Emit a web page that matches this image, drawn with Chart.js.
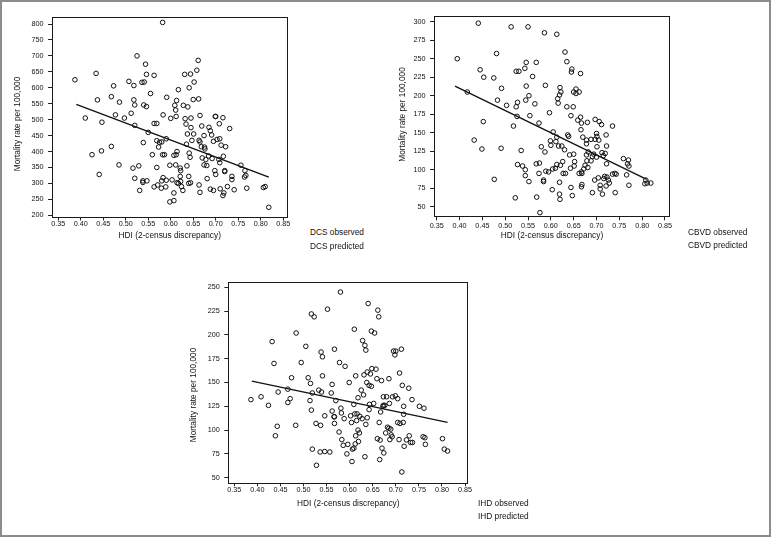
<!DOCTYPE html>
<html><head><meta charset="utf-8">
<script src="https://cdn.jsdelivr.net/npm/chart.js@4.4.1/dist/chart.umd.min.js"></script>
<style>
html,body{margin:0;padding:0;background:#fff;}
#page{position:relative;width:771px;height:537px;overflow:hidden;background:#fff;}
#outer{position:absolute;left:0;top:0;width:771px;height:537px;box-sizing:border-box;border:2px solid #8c8c8c;}
canvas{position:absolute;}
.lg{position:absolute;white-space:nowrap;color:#111;line-height:1;}
</style></head><body>
<div id="page"><div id="outer"></div>
<canvas id="c1"></canvas><canvas id="c2"></canvas><canvas id="c3"></canvas>
</div>
<script>
// ---------- DATA ----------
const xTicks = [0.35,0.40,0.45,0.50,0.55,0.60,0.65,0.70,0.75,0.80,0.85];
const dcsYTicks = [200,250,300,350,400,450,500,550,600,650,700,750,800];
const cbvdYTicks = [50,75,100,125,150,175,200,225,250,275,300];
const ihdYTicks = [50,75,100,125,150,175,200,225,250];
const xTitle = 'HDI (2-census discrepancy)';
const yTitle = 'Mortality rate per 100,000';
const dcsLegend = ['DCS observed','DCS predicted'];
const cbvdLegend = ['CBVD observed','CBVD predicted'];
const ihdLegend = ['IHD observed','IHD predicted'];

// DCS observed
const dcsHDI = [0.387,0.41,0.425,0.434,0.437,0.446,0.441,0.447,0.468,0.468,0.473,0.477,0.486,0.485,0.497,0.507,0.512,0.516,0.518,0.518,
0.52,0.52,0.52,0.525,0.529,0.531,0.536,0.541,0.539,0.538,0.538,0.540,0.544,0.546,0.546,0.547,0.55,0.555,0.559,0.563,
0.563,0.569,0.563,0.569,0.571,0.573,0.579,0.58,0.582,0.583,0.586,0.582,0.591,0.589,0.59,0.598,0.60,0.603,0.607,0.617,
0.607,0.609,0.611,0.613,0.612,0.607,0.612,0.614,0.611,0.614,0.617,0.621,0.622,0.621,0.622,0.624,0.627,0.628,0.631,0.632,
0.634,0.635,0.637,0.636,0.638,0.64,0.64,0.641,0.641,0.643,0.644,0.644,0.645,0.645,0.647,0.65,0.651,0.652,0.658,0.661,
0.662,0.663,0.665,0.665,0.668,0.669,0.663,0.665,0.67,0.674,0.675,0.676,0.674,0.678,0.68,0.681,0.684,0.685,0.688,0.691,
0.688,0.692,0.695,0.695,0.698,0.699,0.700,0.70,0.703,0.707,0.708,0.709,0.709,0.71,0.712,0.716,0.716,0.717,0.718,0.72,
0.72,0.722,0.726,0.731,0.736,0.736,0.741,0.756,0.765,0.767,0.769,0.764,0.806,0.81,0.818,0.569,0.575,0.583,0.59,0.58,0.598];
const dcsRate = [625,505,390,645,562,402,328,492,572,416,606,515,555,358,505,620,520,348,607,562,
546,482,316,700,355,278,617,618,428,308,303,546,674,642,541,308,460,582,390,639,
488,488,289,434,295,414,285,430,805,515,390,390,570,289,440,242,504,311,246,594,
270,545,530,560,510,388,390,400,358,302,300,348,340,322,306,290,278,545,642,503,
486,423,455,355,540,322,300,600,395,382,302,643,475,505,435,563,455,618,655,686,
565,435,513,430,415,480,295,272,380,450,414,408,358,375,356,315,386,476,465,452,
282,378,278,432,340,510,510,328,438,375,487,440,365,283,420,506,262,385,270,340,
337,415,290,472,322,312,280,357,340,325,285,320,287,290,225,350,429,318,310,308,357];
// DCS predicted (fitted line ends)
const dcsPredHDI = [0.39,0.818];
const dcsPred = [548,320];

// CBVD observed
const cbvdHDI = [0.395,0.417,0.441,0.445,0.432,0.449,0.453,0.452,0.481,0.475,0.476,0.483,0.492,0.491,0.503,0.513,0.518,0.522,0.524,0.530,
0.524,0.527,0.526,0.527,0.535,0.538,0.543,0.544,0.544,0.546,0.546,0.545,0.552,0.550,0.552,0.554,0.560,0.565,0.568,0.569,
0.574,0.568,0.575,0.574,0.576,0.579,0.584,0.584,0.586,0.588,0.587,0.589,0.595,0.597,0.599,0.600,0.603,0.604,0.605,0.613,
0.611,0.613,0.61,0.613,0.615,0.616,0.619,0.620,0.622,0.617,0.624,0.619,0.619,0.620,0.621,0.626,0.627,0.632,0.63,0.631,
0.635,0.635,0.637,0.639,0.641,0.643,0.644,0.644,0.646,0.645,0.647,0.649,0.650,0.652,0.65,0.651,0.655,0.655,0.659,0.662,
0.662,0.665,0.665,0.666,0.667,0.667,0.668,0.668,0.667,0.67,0.672,0.675,0.678,0.678,0.678,0.68,0.679,0.682,0.681,0.688,
0.688,0.691,0.694,0.691,0.697,0.696,0.697,0.7,0.701,0.7,0.701,0.705,0.706,0.704,0.708,0.708,0.711,0.712,0.713,0.715,
0.716,0.718,0.719,0.721,0.721,0.722,0.722,0.723,0.726,0.728,0.735,0.735,0.74,0.743,0.741,0.759,0.770,0.768,0.771,0.766,
0.771,0.808,0.811,0.819,0.806];
const cbvdRate = [250,205,298,235,140,128,225,165,257,224,87,194,210,129,187,293,159,62,233,233,
185,191,172,107,126,105,237,92,100,245,213,194,200,293,84,173,226,189,245,63,
163,108,109,95,42,131,84,86,285,214,124,98,97,177,139,133,73,101,151,144,
138,283,102,107,196,190,201,211,205,132,132,83,67,60,106,111,95,95,127,259,
246,185,147,145,120,102,76,173,236,232,65,185,205,111,121,105,209,203,167,205,
95,230,171,154,163,97,95,80,77,144,101,106,140,135,120,164,112,124,103,112,
141,118,121,69,168,86,141,149,131,117,145,140,165,89,79,74,161,123,67,119,
88,91,122,147,78,132,108,90,86,82,159,94,95,94,69,115,113,108,105,93,
79,86,82,82,81];
// CBVD predicted (fitted line ends)
const cbvdPredHDI = [0.39,0.81];
const cbvdPred = [213,87];

// IHD observed
const ihdHDI = [0.386,0.408,0.424,0.432,0.436,0.439,0.443,0.445,0.466,0.466,0.471,0.474,0.483,0.484,0.495,0.505,0.510,0.514,0.515,0.517,
0.519,0.517,0.523,0.519,0.527,0.528,0.533,0.536,0.537,0.538,0.541,0.539,0.541,0.546,0.546,0.552,0.557,0.56,0.562,0.562,
0.566,0.567,0.567,0.567,0.570,0.577,0.578,0.580,0.581,0.582,0.583,0.586,0.588,0.590,0.594,0.596,0.599,0.602,0.604,0.605,
0.606,0.609,0.610,0.609,0.611,0.613,0.612,0.613,0.615,0.616,0.618,0.619,0.618,0.621,0.622,0.625,0.627,0.628,0.63,0.631,
0.633,0.635,0.633,0.635,0.637,0.638,0.638,0.640,0.642,0.642,0.643,0.645,0.648,0.647,0.647,0.652,0.654,0.657,0.659,0.66,
0.661,0.663,0.666,0.664,0.665,0.667,0.669,0.67,0.672,0.673,0.673,0.674,0.676,0.678,0.68,0.682,0.685,0.685,0.686,0.687,
0.689,0.69,0.692,0.693,0.695,0.698,0.699,0.7,0.704,0.704,0.707,0.708,0.709,0.712,0.713,0.714,0.716,0.717,0.717,0.718,
0.723,0.728,0.729,0.732,0.736,0.735,0.751,0.759,0.761,0.763,0.764,0.801,0.805,0.812];
const ihdRate = [132,135,126,193,170,94,104,140,143,129,133,155,105,202,171,188,155,131,149,121,
80,222,219,139,107,63,142,77,105,182,177,140,157,115,77.5,227,77,139,148,120,
114,185,107,114,131,98,171,245,123,118,90,84,112,167,75,85,150,115,108,67,
80,81,206,127,117,157,85.5,94,110,117,134,88,100,97,114.5,142,112,194,137,158,
189,184,72,106,150,113,161,233,147,121.5,127,159,164.6,146,204,128,202,164,154,91,
226,219,89.5,108,69,119,152,81,125,135,126,76,126,97,135,103,102,154,128,90,
101,95,93,135,183,179,136,183,133,108,90,160,107,185,56,147,108,116.6,125,83,
89.7,144,94,87,87,132,125,93,123,92,85,91,80,78];
// IHD predicted (fitted line ends)
const ihdPredHDI = [0.388,0.812];
const ihdPred = [151.5,108];

// ---------- FONT ----------
function fontAvailable(name){
  const ctx=document.createElement('canvas').getContext('2d');
  const s='HDI (2-census discrepancy) 0.35 Wmwil';
  ctx.font='20px monospace'; const a=ctx.measureText(s).width;
  ctx.font='20px "'+name+'", monospace'; const b=ctx.measureText(s).width;
  return Math.abs(a-b)>0.5;
}
const NARROW = fontAvailable('Liberation Sans Narrow');
const FAMILY = NARROW ? '"Liberation Sans Narrow", "Liberation Sans", Arial, sans-serif' : '"Liberation Sans", Arial, sans-serif';
const K = NARROW ? 1 : 0.83;
const TICK_SIZE = 8.7*K, TITLE_SIZE = 10*K, LEGEND_SIZE = 10*K;
Chart.defaults.font.family = FAMILY;
Chart.defaults.color = '#111';

const framePlugin = {
  id:'frame',
  beforeDatasetsDraw(chart){
    const {ctx, chartArea:a} = chart;
    ctx.save(); ctx.strokeStyle='#1a1a1a'; ctx.lineWidth=1;
    ctx.strokeRect(Math.round(a.left)+0.5, Math.round(a.top)+0.5, Math.round(a.right-a.left)-1, Math.round(a.bottom-a.top)-1);
    ctx.restore();
  }
};
// vertical axis title, drawn at the centre measured on the reference
const yTitlePlugin = {
  id:'yTitle',
  afterDraw(chart, args, opts){
    const ctx = chart.ctx;
    ctx.save();
    ctx.translate(opts.x, opts.y);
    ctx.rotate(-Math.PI/2);
    ctx.font = TITLE_SIZE + 'px ' + FAMILY;
    ctx.fillStyle = '#111';
    ctx.textAlign = 'center'; ctx.textBaseline = 'middle';
    ctx.fillText(opts.text, 0, 0);
    ctx.restore();
  }
};

const panels = [
  {id:'c1', left:0, top:0, w:300, h:252, frame:[52,17,287.5,217.5], yTitleX:18, yTitleY:124, xTitleY:235.7, xLabPad:0,
   x:dcsHDI, y:dcsRate, px:dcsPredHDI, py:dcsPred, yTicks:dcsYTicks, xMin:0.336, xMax:0.8596, yMin:193, yMax:822,
   legend:dcsLegend, legendX:310, legendY:[232.5,246]},
  {id:'c2', left:380, top:0, w:300, h:252, frame:[434,16,670,217.3], yTitleX:403, yTitleY:114.5, xTitleY:235.8, xLabPad:2,
   x:cbvdHDI, y:cbvdRate, px:cbvdPredHDI, py:cbvdPred, yTicks:cbvdYTicks, xMin:0.344, xMax:0.861, yMin:35.7, yMax:307.7,
   legend:cbvdLegend, legendX:688, legendY:[232.5,245.5]},
  {id:'c3', left:180, top:265, w:300, h:255, frame:[228.3,281.7,468.3,483.3], yTitleX:194, yTitleY:395, xTitleY:503.5, xLabPad:0,
   x:ihdHDI, y:ihdRate, px:ihdPredHDI, py:ihdPred, yTicks:ihdYTicks, xMin:0.337, xMax:0.857, yMin:44.1, yMax:255.9,
   legend:ihdLegend, legendX:478, legendY:[503.5,516.5]}
];

const page = document.getElementById('page');
panels.forEach(p => {
  const cv = document.getElementById(p.id);
  cv.width = p.w; cv.height = p.h;
  cv.style.left = p.left+'px'; cv.style.top = p.top+'px';
  cv.style.width = p.w+'px'; cv.style.height = p.h+'px';
  const [fl, ft, fr, fb] = p.frame;
  const yW = fl - p.left;
  const xH = p.top + p.h - fb;
  const obs = p.x.map((v,i)=>({x:v, y:p.y[i]}));
  const pred = p.px.map((v,i)=>({x:v, y:p.py[i]}));
  new Chart(cv, {
    type:'scatter',
    data:{datasets:[
      {label:p.legend[0], data:obs, pointStyle:'circle', pointRadius:2.3, pointHoverRadius:2.3,
       borderColor:'#111', backgroundColor:'rgba(0,0,0,0)', pointBorderWidth:1, order:2},
      {label:p.legend[1], data:pred, showLine:true, pointRadius:0, borderColor:'#111', borderWidth:1.3, order:1}
    ]},
    options:{
      responsive:false, animation:false, devicePixelRatio:1,
      layout:{padding:{left:0, top:ft - p.top, right:p.left + p.w - fr, bottom:0}},
      plugins:{legend:{display:false}, tooltip:{enabled:false},
               yTitle:{text:yTitle, x:p.yTitleX - p.left, y:p.yTitleY - p.top}},
      scales:{
        x:{type:'linear', position:'bottom', min:p.xMin, max:p.xMax,
           afterBuildTicks:ax=>{ax.ticks = xTicks.map(v=>({value:v}));},
           afterFit:s=>{s.height = xH;},
           grid:{drawOnChartArea:false, drawTicks:true, tickLength:3, color:'#222', lineWidth:1},
           border:{display:false},
           ticks:{autoSkip:false, maxRotation:0, padding:p.xLabPad, color:'#111',
                  font:{size:TICK_SIZE, lineHeight:1}, callback:v=>Number(v).toFixed(2)},
           title:{display:true, text:xTitle, color:'#111', font:{size:TITLE_SIZE, lineHeight:1},
                  padding:{top:0, bottom:p.top + p.h - p.xTitleY - TITLE_SIZE/2}}},
        y:{type:'linear', position:'left', min:p.yMin, max:p.yMax,
           afterBuildTicks:ax=>{ax.ticks = p.yTicks.map(v=>({value:v}));},
           afterFit:s=>{s.width = yW;},
           grid:{drawOnChartArea:false, drawTicks:true, tickLength:4, color:'#222', lineWidth:1},
           border:{display:false},
           ticks:{autoSkip:false, padding:4.5, color:'#111', font:{size:TICK_SIZE, lineHeight:1},
                  callback:v=>String(v)},
           title:{display:false, text:yTitle}}
      }
    },
    plugins:[framePlugin, yTitlePlugin]
  });
  p.legend.forEach((t,i)=>{
    const d = document.createElement('div');
    d.className='lg'; d.textContent=t;
    d.style.fontFamily = FAMILY; d.style.fontSize = LEGEND_SIZE+'px';
    d.style.left = p.legendX+'px'; d.style.top = (p.legendY[i] - LEGEND_SIZE/2)+'px';
    page.appendChild(d);
  });
});
</script>
</body></html>
